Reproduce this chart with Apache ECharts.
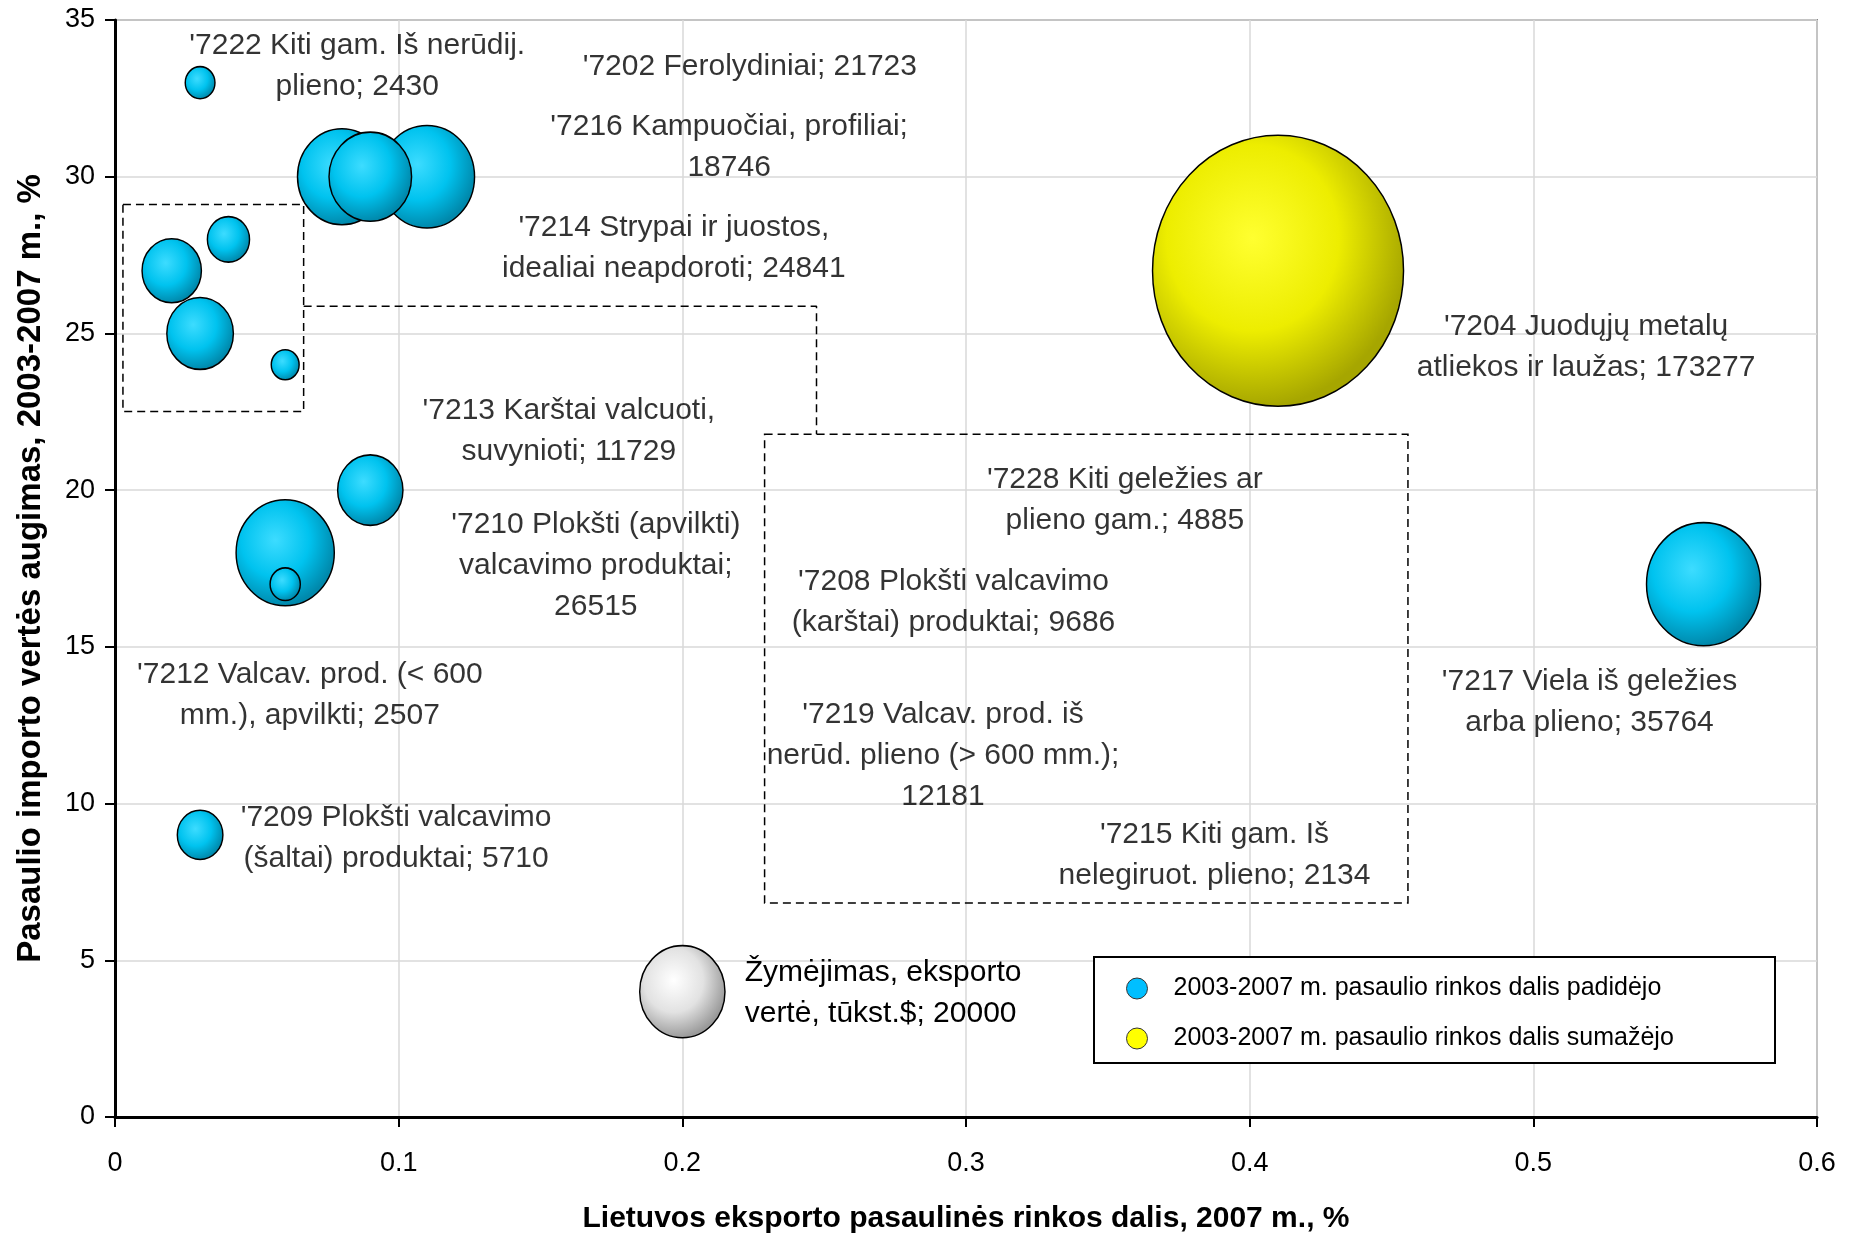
<!DOCTYPE html>
<html><head><meta charset="utf-8">
<script src="https://cdn.jsdelivr.net/npm/echarts@6/dist/echarts.min.js"></script>
<style>html,body{margin:0;padding:0;background:#fff}#c{width:1852px;height:1236px}</style>
</head><body><div id="c"></div><script>
// ---- data ----
const codes = ['7222','7202','7214','7216','7213','7210','7212','7209','7217','7228','7208','7219','7215','7204'];
const marketShare2007 = [0.03,0.08,0.11,0.09,0.09,0.06,0.06,0.03,0.56,0.04,0.02,0.03,0.06,0.41];
const importGrowth = [33,30,30,30,20,18,17,9,17,28,27,25,24,27];
const exportValue = [2430,21723,24841,18746,11729,26515,2507,5710,35764,4885,9686,12181,2134,173277];
const shareTrend = ['up','up','up','up','up','up','up','up','up','up','up','up','up','down'];
const labelTexts = [
  "'7222 Kiti gam. Iš nerūdij.\nplieno; 2430",
  "'7202 Ferolydiniai; 21723",
  "'7214 Strypai ir juostos,\nidealiai neapdoroti; 24841",
  "'7216 Kampuočiai, profiliai;\n18746",
  "'7213 Karštai valcuoti,\nsuvynioti; 11729",
  "'7210 Plokšti (apvilkti)\nvalcavimo produktai;\n26515",
  "'7212 Valcav. prod. (< 600\nmm.), apvilkti; 2507",
  "'7209 Plokšti valcavimo\n(šaltai) produktai; 5710",
  "'7217 Viela iš geležies\narba plieno; 35764",
  "'7228 Kiti geležies ar\nplieno gam.; 4885",
  "'7208 Plokšti valcavimo\n(karštai) produktai; 9686",
  "'7219 Valcav. prod. iš\nnerūd. plieno (> 600 mm.);\n12181",
  "'7215 Kiti gam. Iš\nnelegiruot. plieno; 2134",
  "'7204 Juodųjų metalų\natliekos ir laužas; 173277"
];
// label anchor points (data units) - layout only
const labelAnchors = [
  [0.0854,33.6],[0.2238,33.57],[0.197,27.78],[0.2165,31.02],[0.16,21.93],[0.1695,17.65],
  [0.0687,13.52],[0.0991,8.95],[0.5198,13.29],[0.356,19.74],[0.2956,16.5],[0.2919,11.58],
  [0.3876,8.43],[0.5186,24.61]
];
const refShare = [0.2];
const refGrowth = [4];
const refValue = [20000];
const refText = "Žymėjimas, eksporto\nvertė, tūkst.$; 20000";
const legendNames = ['2003-2007 m. pasaulio rinkos dalis padidėjo','2003-2007 m. pasaulio rinkos dalis sumažėjo'];
const xTicks = [0,0.1,0.2,0.3,0.4,0.5,0.6];
const yTicks = [0,5,10,15,20,25,30,35];
const xTitle = 'Lietuvos eksporto pasaulinės rinkos dalis, 2007 m., %';
const yTitle = 'Pasaulio importo vertės augimas, 2003-2007 m., %';
// annotation shapes (data units)
const boxSmall = [[0.0028,29.11],[0.0665,22.51]];
const boxLarge = [[0.229,21.78],[0.4558,6.83]];
const connector = [[0.0665,25.87],[0.2473,25.87],[0.2473,21.78]];

// ---- chart ----
const FONT = "'Liberation Sans', Arial, sans-serif";
const ellipse = 'path://M0,50 A50,50 0 1,1 100,50 A50,50 0 1,1 0,50 Z';
const sizeFn = d => { const s = Math.sqrt(d[2]); return [0.603*s, 0.651*s]; };
function radial(c0, c1, c2){
  return {type:'radial', x:0.4, y:0.38, r:0.62, colorStops:[
    {offset:0,color:c0},{offset:0.55,color:c1},{offset:1,color:c2}]};
}
const upData = [], downData = [];
codes.forEach((c,i)=>{
  const p = [marketShare2007[i], importGrowth[i], exportValue[i], c];
  (shareTrend[i]==='up'?upData:downData).push(p);
});
const labelData = labelAnchors.map((a,i)=>({value:a, label:{formatter:labelTexts[i]}}));

const chart = echarts.init(document.getElementById('c'));
chart.setOption({
  backgroundColor:'#fff',
  animation:false,
  textStyle:{fontFamily:FONT},
  grid:{left:115,right:35,top:20,bottom:119,outerBoundsMode:'none',containLabel:false,
    show:true,borderColor:'#868686',borderWidth:2},
  xAxis:{type:'value',min:0,max:0.6,interval:0.1,
    name:xTitle,nameLocation:'middle',nameGap:87,
    nameTextStyle:{fontSize:30,fontWeight:'bold',color:'#000',fontFamily:FONT},
    axisLine:{show:true,onZero:false,lineStyle:{color:'#000',width:3}},
    axisTick:{show:true,length:10,lineStyle:{color:'#000',width:2}},
    axisLabel:{fontSize:27,color:'#000',margin:33,fontFamily:FONT,
      formatter:v=>{const t=xTicks.find(k=>Math.abs(k-v)<1e-9);return String(t!==undefined?t:v);}},
    splitLine:{show:true,lineStyle:{color:'#d9d9d9',width:1.5}}
  },
  yAxis:{type:'value',min:0,max:35,interval:5,
    name:yTitle,nameLocation:'middle',nameGap:68,nameRotate:90,
    nameTextStyle:{fontSize:33,fontWeight:'bold',color:'#000',fontFamily:FONT},
    axisLine:{show:true,onZero:false,lineStyle:{color:'#000',width:3}},
    axisTick:{show:true,length:10,lineStyle:{color:'#000',width:2}},
    axisLabel:{fontSize:27,color:'#000',margin:20,fontFamily:FONT,
      formatter:v=>String(yTicks.find(k=>k===v)??v)},
    splitLine:{show:true,lineStyle:{color:'#d9d9d9',width:1.5}}
  },
  legend:{orient:'vertical',left:1126,top:976,padding:0,itemWidth:21,itemHeight:26,itemGap:25,
    selectedMode:false,
    textStyle:{fontSize:25,color:'#000',fontFamily:FONT,padding:[0,0,0,21]},
    data:[
      {name:legendNames[0],icon:ellipse,itemStyle:{color:'#00BFFF',borderColor:'#333',borderWidth:1}},
      {name:legendNames[1],icon:ellipse,itemStyle:{color:'#FFFF00',borderColor:'#333',borderWidth:1}}
    ]},
  graphic:[{type:'rect',left:1093,top:956,z:3,shape:{width:681,height:106},
    style:{fill:'#fff',stroke:'#000',lineWidth:2}}],
  series:[
    {type:'line',name:'annot',silent:true,symbol:'none',data:connector,z:1,
      lineStyle:{color:'#000',width:1.5,type:[8,5]},
      markArea:{silent:true,itemStyle:{color:'rgba(0,0,0,0)',borderColor:'#000',borderWidth:1.5,borderType:[8,5]},
        data:[[{coord:boxSmall[0]},{coord:boxSmall[1]}],[{coord:boxLarge[0]},{coord:boxLarge[1]}]]}},
    {type:'scatter',name:legendNames[0],data:upData,symbol:ellipse,symbolSize:sizeFn,z:5,
      itemStyle:{color:radial('#3ddcff','#00c3ef','#0088ab'),borderColor:'#000',borderWidth:1.5,opacity:1}},
    {type:'scatter',name:legendNames[1],data:downData,symbol:ellipse,symbolSize:sizeFn,z:5,
      itemStyle:{color:radial('#ffff30','#eded00','#a6a600'),borderColor:'#000',borderWidth:1.5,opacity:1}},
    {type:'scatter',name:'ref',data:refShare.map((x,i)=>[x,refGrowth[i],refValue[i]]),symbol:ellipse,symbolSize:sizeFn,z:5,
      itemStyle:{color:radial('#ffffff','#e2e2e2','#9a9a9a'),borderColor:'#000',borderWidth:1.5,opacity:1},
      label:{show:true,position:'right',distance:19,offset:[0,2],formatter:refText,fontSize:30,lineHeight:41,color:'#000',align:'left',fontFamily:FONT}},
    {type:'scatter',name:'labels',data:labelData,symbolSize:1,silent:true,z:6,
      itemStyle:{color:'rgba(0,0,0,0)'},
      label:{show:true,position:'inside',offset:[0,2],fontSize:30,lineHeight:41,color:'#000',align:'center',verticalAlign:'middle',fontFamily:FONT}}
  ]
});
</script></body></html>
